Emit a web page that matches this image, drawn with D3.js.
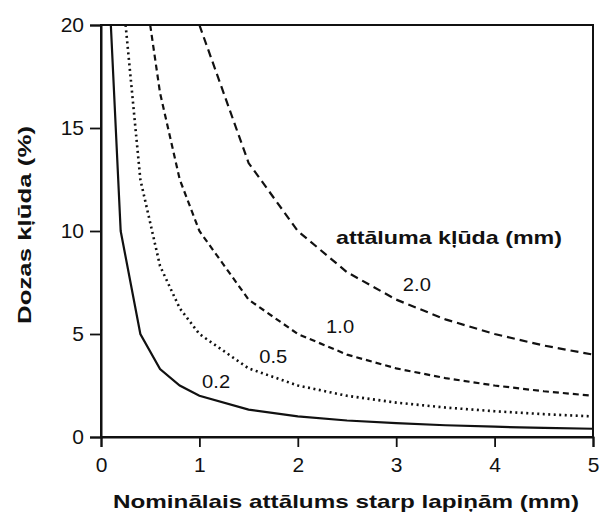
<!DOCTYPE html>
<html>
<head>
<meta charset="utf-8">
<script src="https://cdn.jsdelivr.net/npm/d3@7"></script>
<style>
  html, body { margin: 0; padding: 0; background: #fff; }
  svg { display: block; font-family: "Liberation Sans", Arial, sans-serif; }
</style>
</head>
<body>
<svg id="chart" width="600" height="515"></svg>
<script>
// Dose error (%) vs. nominal leaf spacing (mm), one curve per spacing error (mm)
const xTicks = [0, 1, 2, 3, 4, 5];
const yTicks = [0, 5, 10, 15, 20];

const spacing02 = [0.1, 0.2, 0.4, 0.6, 0.8, 1.0, 1.5, 2.0, 2.5, 3.0, 3.5, 4.0, 4.5, 5.0];
const error02   = [20, 10, 5, 3.3, 2.5, 2.0, 1.33, 1.0, 0.8, 0.67, 0.57, 0.5, 0.44, 0.4];

const spacing05 = [0.25, 0.4, 0.6, 0.8, 1.0, 1.5, 2.0, 2.5, 3.0, 3.5, 4.0, 4.5, 5.0];
const error05   = [20, 12.5, 8.3, 6.25, 5.0, 3.33, 2.5, 2.0, 1.67, 1.43, 1.25, 1.11, 1.0];

const spacing10 = [0.5, 0.6, 0.8, 1.0, 1.5, 2.0, 2.5, 3.0, 3.5, 4.0, 4.5, 5.0];
const error10   = [20, 16.7, 12.5, 10, 6.67, 5.0, 4.0, 3.33, 2.86, 2.5, 2.22, 2.0];

const spacing20 = [1.0, 1.5, 2.0, 2.5, 3.0, 3.5, 4.0, 4.5, 5.0];
const error20   = [20, 13.3, 10, 8.0, 6.67, 5.71, 5.0, 4.44, 4.0];

const seriesNames = ["0.2", "0.5", "1.0", "2.0"];
const legendTitle = "attāluma kļūda (mm)";
const xTitle = "Nominālais attālums starp lapiņām (mm)";
const yTitle = "Dozas kļūda (%)";

const series = [
  { name: seriesNames[0], xs: spacing02, ys: error02, dash: null,    width: 2.2, label: [1.17, 2.67] },
  { name: seriesNames[1], xs: spacing05, ys: error05, dash: "2,3.5", width: 2.6, label: [1.75, 3.9] },
  { name: seriesNames[2], xs: spacing10, ys: error10, dash: "6,4",   width: 2.2, label: [2.43, 5.35] },
  { name: seriesNames[3], xs: spacing20, ys: error20, dash: "8,5",   width: 2.2, label: [3.21, 7.4] }
];

const svg = d3.select("#chart");
const margin = { left: 101, right: 7, top: 25, bottom: 78 };
const W = 600, H = 515;

const x = d3.scaleLinear().domain([0, 5]).range([margin.left, W - margin.right]);
const y = d3.scaleLinear().domain([0, 20]).range([H - margin.bottom, margin.top]);

const plot = svg.append("g");

// clip curves to the plotting frame
svg.append("defs").append("clipPath").attr("id", "clip")
  .append("rect")
  .attr("x", x(0)).attr("y", y(20))
  .attr("width", x(5) - x(0)).attr("height", y(0) - y(20));

const line = d3.line().x(d => x(d[0])).y(d => y(d[1]));

const curves = plot.append("g").attr("clip-path", "url(#clip)");
series.forEach(s => {
  curves.append("path")
    .datum(s.xs.map((v, i) => [v, s.ys[i]]))
    .attr("d", line)
    .attr("fill", "none")
    .attr("stroke", "#111")
    .attr("stroke-width", s.width)
    .attr("stroke-dasharray", s.dash);
});

// frame
plot.append("rect")
  .attr("x", x(0)).attr("y", y(20))
  .attr("width", x(5) - x(0)).attr("height", y(0) - y(20))
  .attr("fill", "none").attr("stroke", "#111").attr("stroke-width", 2);

// axes
const xAxis = svg.append("g")
  .attr("transform", `translate(0,${y(0)})`)
  .call(d3.axisBottom(x).tickValues(xTicks).tickSize(10).tickPadding(10).tickFormat(d3.format("d")));
const yAxis = svg.append("g")
  .attr("transform", `translate(${x(0)},0)`)
  .call(d3.axisLeft(y).tickValues(yTicks).tickSize(11).tickPadding(6).tickFormat(d3.format("d")));

[xAxis, yAxis].forEach(g => {
  g.select(".domain").attr("stroke", "#111").attr("stroke-width", 2);
  g.selectAll(".tick line").attr("stroke", "#111").attr("stroke-width", 1.8);
  g.selectAll(".tick text")
    .attr("fill", "#111")
    .style("font-family", "'Liberation Sans', Arial, sans-serif")
    .style("font-size", "21px");
});

// axis titles
svg.append("text")
  .attr("x", 346).attr("y", 508)
  .attr("text-anchor", "middle")
  .attr("textLength", 466).attr("lengthAdjust", "spacingAndGlyphs")
  .style("font-size", "19px").style("font-weight", "bold")
  .attr("fill", "#111")
  .text(xTitle);

svg.append("text")
  .attr("transform", `translate(31,225) rotate(-90)`)
  .attr("text-anchor", "middle")
  .attr("textLength", 198).attr("lengthAdjust", "spacingAndGlyphs")
  .style("font-size", "19px").style("font-weight", "bold")
  .attr("fill", "#111")
  .text(yTitle);

// legend title
svg.append("text")
  .attr("x", 449).attr("y", 244)
  .attr("text-anchor", "middle")
  .attr("textLength", 226).attr("lengthAdjust", "spacingAndGlyphs")
  .style("font-size", "19px").style("font-weight", "bold")
  .attr("fill", "#111")
  .text(legendTitle);

// curve labels
series.forEach(s => {
  svg.append("text")
    .attr("x", x(s.label[0])).attr("y", y(s.label[1]))
    .attr("text-anchor", "middle")
    .attr("dy", "0.35em")
    .attr("textLength", 28).attr("lengthAdjust", "spacingAndGlyphs")
    .style("font-size", "18px")
    .attr("fill", "#111")
    .text(s.name);
});
</script>
</body>
</html>
